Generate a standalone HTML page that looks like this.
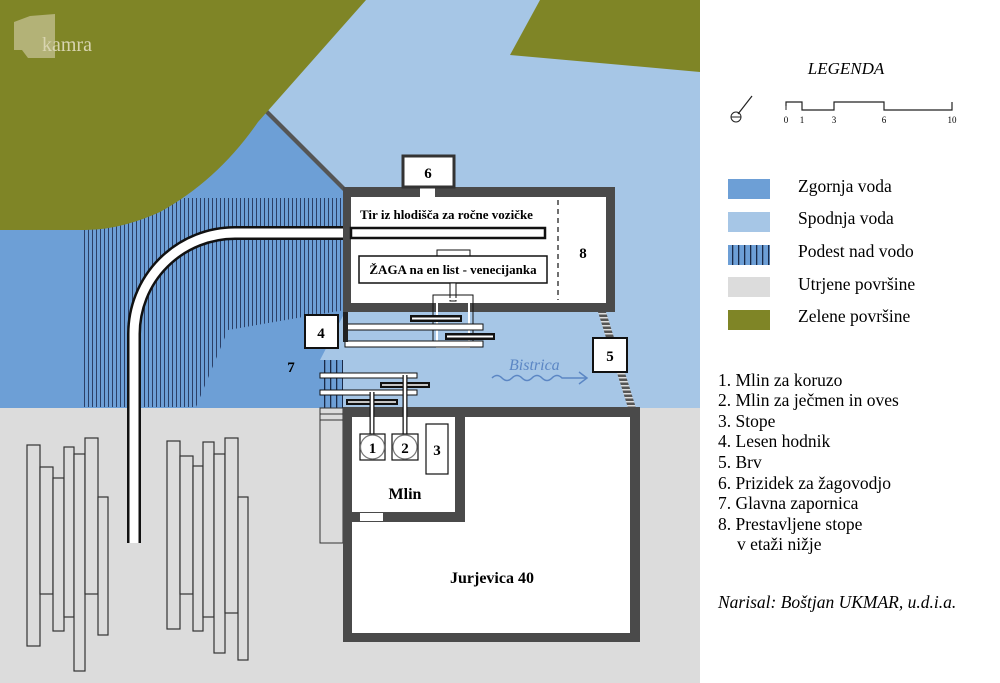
<!DOCTYPE html>
<html><head><meta charset="utf-8"><style>
html,body{margin:0;padding:0;background:#fff}
svg{display:block}
text{font-family:"Liberation Serif",serif}
</style></head><body>
<svg width="1000" height="683" viewBox="0 0 1000 683" xmlns="http://www.w3.org/2000/svg">
<defs>
<pattern id="hatch" width="4" height="10" patternUnits="userSpaceOnUse">
<rect width="4" height="10" fill="#6d9fd6"/><rect x="0" width="1" height="10" fill="#2b3f66"/>
</pattern>
<pattern id="hatch2" width="6" height="10" patternUnits="userSpaceOnUse">
<rect width="6" height="10" fill="#6d9fd6"/><rect x="0" width="1.3" height="10" fill="#1a2a48"/>
</pattern>
<pattern id="brv" width="6" height="4" patternUnits="userSpaceOnUse">
<rect width="6" height="4" fill="#555"/><rect y="1" width="6" height="1.5" fill="#ddd"/>
</pattern>
</defs>
<rect x="0" y="0" width="700" height="683" fill="#a6c6e6"/>
<rect x="0" y="408" width="700" height="275" fill="#dcdcdc"/>
<polygon points="0,150 262,110 345,190 345,312 320,360 320,408 0,408" fill="#6d9fd6"/>
<polygon points="83,198 345,198 345,310 303,317 228,330 196,407 83,407" fill="url(#hatch)"/>
<polygon points="261,109 264,106 347,189 344,192" fill="#555"/>
<path d="M0,0 L366,0 L258,122 Q218,180 160,212 Q120,230 85,230 L0,230 Z" fill="#7f8526"/>
<polygon points="510,55 540,0 700,0 700,72" fill="#7f8526"/>
<path d="M14,22 L30,16 L55,14 L55,58 L28,58 L22,50 L14,50 Z" fill="#c9c49a" opacity="0.7"/>
<text x="42" y="51" font-size="20" fill="#d8d4b0">kamra</text>
<polygon points="598,312 606,312 636,408 628,408" fill="url(#brv)"/>
<rect x="320" y="360" width="23" height="48" fill="url(#hatch2)"/>
<rect x="320" y="408" width="23" height="135" fill="#dcdcdc" stroke="#333" stroke-width="1"/>
<line x1="320" y1="414" x2="343" y2="414" stroke="#333"/><line x1="320" y1="420" x2="343" y2="420" stroke="#333"/>
<path d="M545,233 L235,233 A101,101 0 0 0 134,334 L134,543" fill="none" stroke="#111" stroke-width="14"/>
<path d="M545,233 L235,233 A101,101 0 0 0 134,334 L134,543" fill="none" stroke="#fff" stroke-width="9"/>
<rect x="343" y="187" width="272" height="125" fill="#4a4a4a"/>
<rect x="351" y="197" width="255" height="106" fill="#fff"/>
<rect x="420" y="187" width="15" height="10" fill="#fff"/>
<path d="M545,228 L351,228 L351,238 L545,238 Z" fill="#fff" stroke="#111" stroke-width="2.5"/>
<line x1="558" y1="200" x2="558" y2="300" stroke="#111" stroke-width="1.2" stroke-dasharray="5,4"/>
<text x="583" y="258" font-size="15" font-weight="bold" text-anchor="middle">8</text>
<text x="360" y="219" font-size="13" font-weight="bold">Tir iz hlodišča za ročne vozičke</text>
<rect x="437" y="250" width="33" height="7" fill="#fff" stroke="#111"/>
<rect x="359" y="256" width="188" height="27" fill="#fff" stroke="#111" stroke-width="1.5"/>
<text x="453" y="274" font-size="13" font-weight="bold" text-anchor="middle">ŽAGA na en list - venecijanka</text>
<rect x="450" y="283" width="6" height="18" fill="#fff" stroke="#111"/>
<rect x="403" y="156" width="51" height="31" fill="#fff" stroke="#333" stroke-width="3"/>
<text x="428" y="178" font-size="15" font-weight="bold" text-anchor="middle">6</text>
<rect x="433" y="295" width="40" height="52" fill="none" stroke="#111" stroke-width="1"/>
<rect x="437" y="299" width="32" height="48" fill="none" stroke="#fff" stroke-width="2"/>
<rect x="345" y="324" width="138" height="6" fill="#fff" stroke="#111"/>
<rect x="345" y="341" width="138" height="6" fill="#fff" stroke="#111"/>
<rect x="410" y="315" width="52" height="7" fill="#111"/><line x1="412" y1="318.5" x2="460" y2="318.5" stroke="#fff" stroke-width="2"/>
<rect x="445" y="333" width="50" height="7" fill="#111"/><line x1="447" y1="336.5" x2="493" y2="336.5" stroke="#fff" stroke-width="2"/>
<rect x="343" y="312" width="5" height="30" fill="#222"/>
<rect x="320" y="373" width="97" height="5" fill="#fff" stroke="#111"/>
<rect x="320" y="390" width="97" height="5" fill="#fff" stroke="#111"/>
<rect x="380" y="382" width="50" height="6" fill="#111"/><line x1="382" y1="385" x2="428" y2="385" stroke="#fff" stroke-width="1.5"/>
<rect x="346" y="399" width="52" height="6" fill="#111"/><line x1="348" y1="402" x2="396" y2="402" stroke="#fff" stroke-width="1.5"/>
<rect x="305" y="315" width="33" height="33" fill="#fff" stroke="#111" stroke-width="2"/>
<text x="321" y="338" font-size="15" font-weight="bold" text-anchor="middle">4</text>
<text x="291" y="372" font-size="15" font-weight="bold" text-anchor="middle">7</text>
<rect x="593" y="338" width="34" height="34" fill="#fff" stroke="#111" stroke-width="2"/>
<text x="610" y="361" font-size="15" font-weight="bold" text-anchor="middle">5</text>
<text x="509" y="370" font-size="16" font-style="italic" fill="#5b86c4">Bistrica</text>
<path d="M492,378 q5,-5 10,0 t10,0 t10,0 t10,0 t10,0 t10,0 t10,0 L586,378" fill="none" stroke="#5b86c4" stroke-width="1.5"/>
<path d="M579,372 L587,378 L579,384" fill="none" stroke="#5b86c4" stroke-width="1.5"/>
<rect x="343" y="407" width="297" height="235" fill="#4a4a4a"/>
<rect x="352" y="417" width="278" height="216" fill="#fff"/>
<path d="M352,417 L465,417 L465,522 L352,522 Z" fill="#4a4a4a"/>
<rect x="352" y="417" width="103" height="95" fill="#fff"/>
<rect x="360" y="513" width="23" height="8" fill="#fff"/>
<line x1="372" y1="392" x2="372" y2="434" stroke="#111" stroke-width="5"/><line x1="372" y1="392" x2="372" y2="434" stroke="#fff" stroke-width="2.5"/>
<line x1="405" y1="375" x2="405" y2="434" stroke="#111" stroke-width="5"/><line x1="405" y1="375" x2="405" y2="434" stroke="#fff" stroke-width="2.5"/>
<rect x="360" y="434" width="25" height="26" fill="#fff" stroke="#111" stroke-width="1.2"/>
<circle cx="372.5" cy="447" r="12" fill="#fff" stroke="#777" stroke-width="1.2"/>
<text x="372.5" y="453" font-size="15" font-weight="bold" text-anchor="middle">1</text>
<rect x="392" y="434" width="26" height="26" fill="#fff" stroke="#111" stroke-width="1.2"/>
<circle cx="405" cy="447" r="12" fill="#fff" stroke="#777" stroke-width="1.2"/>
<text x="405" y="453" font-size="15" font-weight="bold" text-anchor="middle">2</text>
<rect x="426" y="424" width="22" height="50" fill="#fff" stroke="#111" stroke-width="1.2"/>
<text x="437" y="455" font-size="15" font-weight="bold" text-anchor="middle">3</text>
<text x="405" y="499" font-size="16" font-weight="bold" text-anchor="middle">Mlin</text>
<text x="492" y="583" font-size="16" font-weight="bold" text-anchor="middle">Jurjevica 40</text>
<g fill="#dcdcdc" stroke="#333" stroke-width="1.2">
<rect x="27" y="445" width="13" height="201"/>
<rect x="40" y="467" width="13" height="127"/>
<rect x="53" y="478" width="11" height="153"/>
<rect x="64" y="447" width="10" height="170"/>
<rect x="74" y="454" width="11" height="217"/>
<rect x="85" y="438" width="13" height="156"/>
<rect x="98" y="497" width="10" height="138"/>
<rect x="167" y="441" width="13" height="188"/>
<rect x="180" y="456" width="13" height="138"/>
<rect x="193" y="466" width="10" height="165"/>
<rect x="203" y="442" width="11" height="175"/>
<rect x="214" y="454" width="11" height="199"/>
<rect x="225" y="438" width="13" height="175"/>
<rect x="238" y="497" width="10" height="163"/>
</g>
<rect x="700" y="0" width="300" height="683" fill="#fff"/>
<text x="846" y="74" font-size="17" font-style="italic" text-anchor="middle">LEGENDA</text>
<path d="M752,96 L738,114" stroke="#222" stroke-width="1.2"/>
<circle cx="736" cy="117" r="5" fill="none" stroke="#222"/>
<line x1="731" y1="117" x2="741" y2="117" stroke="#222"/>
<path d="M786,106 L786,102 L802,102 L802,110 L834,110 L834,102 L884,102 L884,110 L952,110 L952,102" fill="none" stroke="#222" stroke-width="1.2"/>
<line x1="786" y1="102" x2="786" y2="110" stroke="#222"/>
<g font-size="9" text-anchor="middle" style="font-family:'Liberation Sans',sans-serif">
<text x="786" y="123">0</text><text x="802" y="123">1</text><text x="834" y="123">3</text><text x="884" y="123">6</text><text x="952" y="123">10</text></g>
<rect x="728" y="179" width="42" height="20" fill="#6d9fd6"/>
<rect x="728" y="212" width="42" height="20" fill="#a6c6e6"/>
<rect x="728" y="245" width="42" height="20" fill="url(#hatch2)"/>
<rect x="728" y="277" width="42" height="20" fill="#dcdcdc"/>
<rect x="728" y="310" width="42" height="20" fill="#7f8526"/>
<g font-size="17.5">
<text x="798" y="192">Zgornja voda</text>
<text x="798" y="224">Spodnja voda</text>
<text x="798" y="257">Podest nad vodo</text>
<text x="798" y="290">Utrjene površine</text>
<text x="798" y="322">Zelene površine</text>
</g>
<g font-size="17.5">
<text x="718" y="386">1. Mlin za koruzo</text>
<text x="718" y="406">2. Mlin za ječmen in oves</text>
<text x="718" y="427">3. Stope</text>
<text x="718" y="447">4. Lesen hodnik</text>
<text x="718" y="468">5. Brv</text>
<text x="718" y="489">6. Prizidek za žagovodjo</text>
<text x="718" y="509">7. Glavna zapornica</text>
<text x="718" y="530">8. Prestavljene stope</text>
<text x="737" y="550">v etaži nižje</text>
<text x="718" y="608" font-style="italic">Narisal:  Boštjan UKMAR, u.d.i.a.</text>
</g>
</svg>
</body></html>
